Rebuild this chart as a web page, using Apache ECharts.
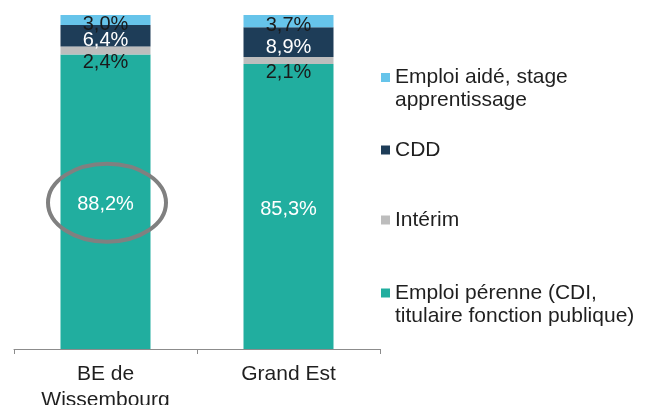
<!DOCTYPE html>
<html><head><meta charset="utf-8">
<script src="https://cdn.jsdelivr.net/npm/echarts@6/dist/echarts.min.js"></script>
<style>html,body{margin:0;padding:0;background:#fff}#c{width:655px;height:405px}</style>
</head><body><div id="c"></div>
<script>
const categories = ['BE de\nWissembourg', 'Grand Est'];
const seriesNames = ['Emploi pérenne (CDI,\ntitulaire fonction publique)', 'Intérim', 'CDD', 'Emploi aidé, stage\napprentissage'];
const perenne = [88.2, 85.3];
const interim = [2.4, 2.1];
const cdd = [6.4, 8.9];
const aide = [3.0, 3.7];

const FONT = '"Liberation Sans", Arial, sans-serif';
const colors = ['#21ae9f', '#bdbdbd', '#1e3d58', '#66c4ea'];
const labelColors = ['#ffffff', '#1a1a1a', '#ffffff', '#1a1a1a'];
const labelOffsets = [[0, 3], [0, 12], [0, 5], [0, 4]];
const values = [perenne, interim, cdd, aide];
const fmt = p => p.value.toFixed(1).replace('.', ',') + '%';

const chart = echarts.init(document.getElementById('c'), null, {renderer: 'canvas'});

function legendItem(idx, top, twoLine) {
  return {
    data: [seriesNames[idx]],
    left: 381, top: top, padding: 0,
    icon: 'rect', itemWidth: 9, itemHeight: 9,
    selectedMode: false,
    formatter: name => twoLine ? ' \n' + name : name,
    textStyle: {
      fontFamily: FONT, fontSize: 21, lineHeight: 23, color: '#1f1f1f'
    }
  };
}

chart.setOption({
  animation: false,
  grid: {left: 14, right: 275, top: 15, bottom: 56, containLabel: false, outerBoundsMode: 'none'},
  legend: [
    legendItem(3, 43, true),
    legendItem(2, 138.5, false),
    legendItem(1, 208.5, false),
    legendItem(0, 258.5, true)
  ],
  xAxis: {
    type: 'category', data: categories,
    axisLine: {lineStyle: {color: '#8c8c8c', width: 1}},
    axisTick: {show: true, length: 5, lineStyle: {color: '#8c8c8c'}},
    axisLabel: {fontFamily: FONT, fontSize: 21, lineHeight: 26, color: '#1f1f1f', margin: 12, interval: 0}
  },
  yAxis: {type: 'value', min: 0, max: 100, show: false},
  series: values.map((v, i) => ({
    name: seriesNames[i], type: 'bar', stack: 'total', data: v,
    barWidth: 90,
    itemStyle: {color: colors[i]},
    label: {
      show: true, position: 'inside', formatter: fmt,
      fontFamily: FONT, fontSize: 20, color: labelColors[i],
      offset: labelOffsets[i]
    }
  }))
});

const center = chart.convertToPixel({xAxisIndex: 0, yAxisIndex: 0}, [0, perenne[0] / 2]);
chart.setOption({
  graphic: [{
    type: 'ellipse',
    shape: {cx: center[0] + 1.5, cy: center[1] + 1, rx: 59, ry: 39},
    style: {fill: 'none', stroke: '#808080', lineWidth: 4},
    silent: true, z: 100
  }]
});
</script></body></html>
